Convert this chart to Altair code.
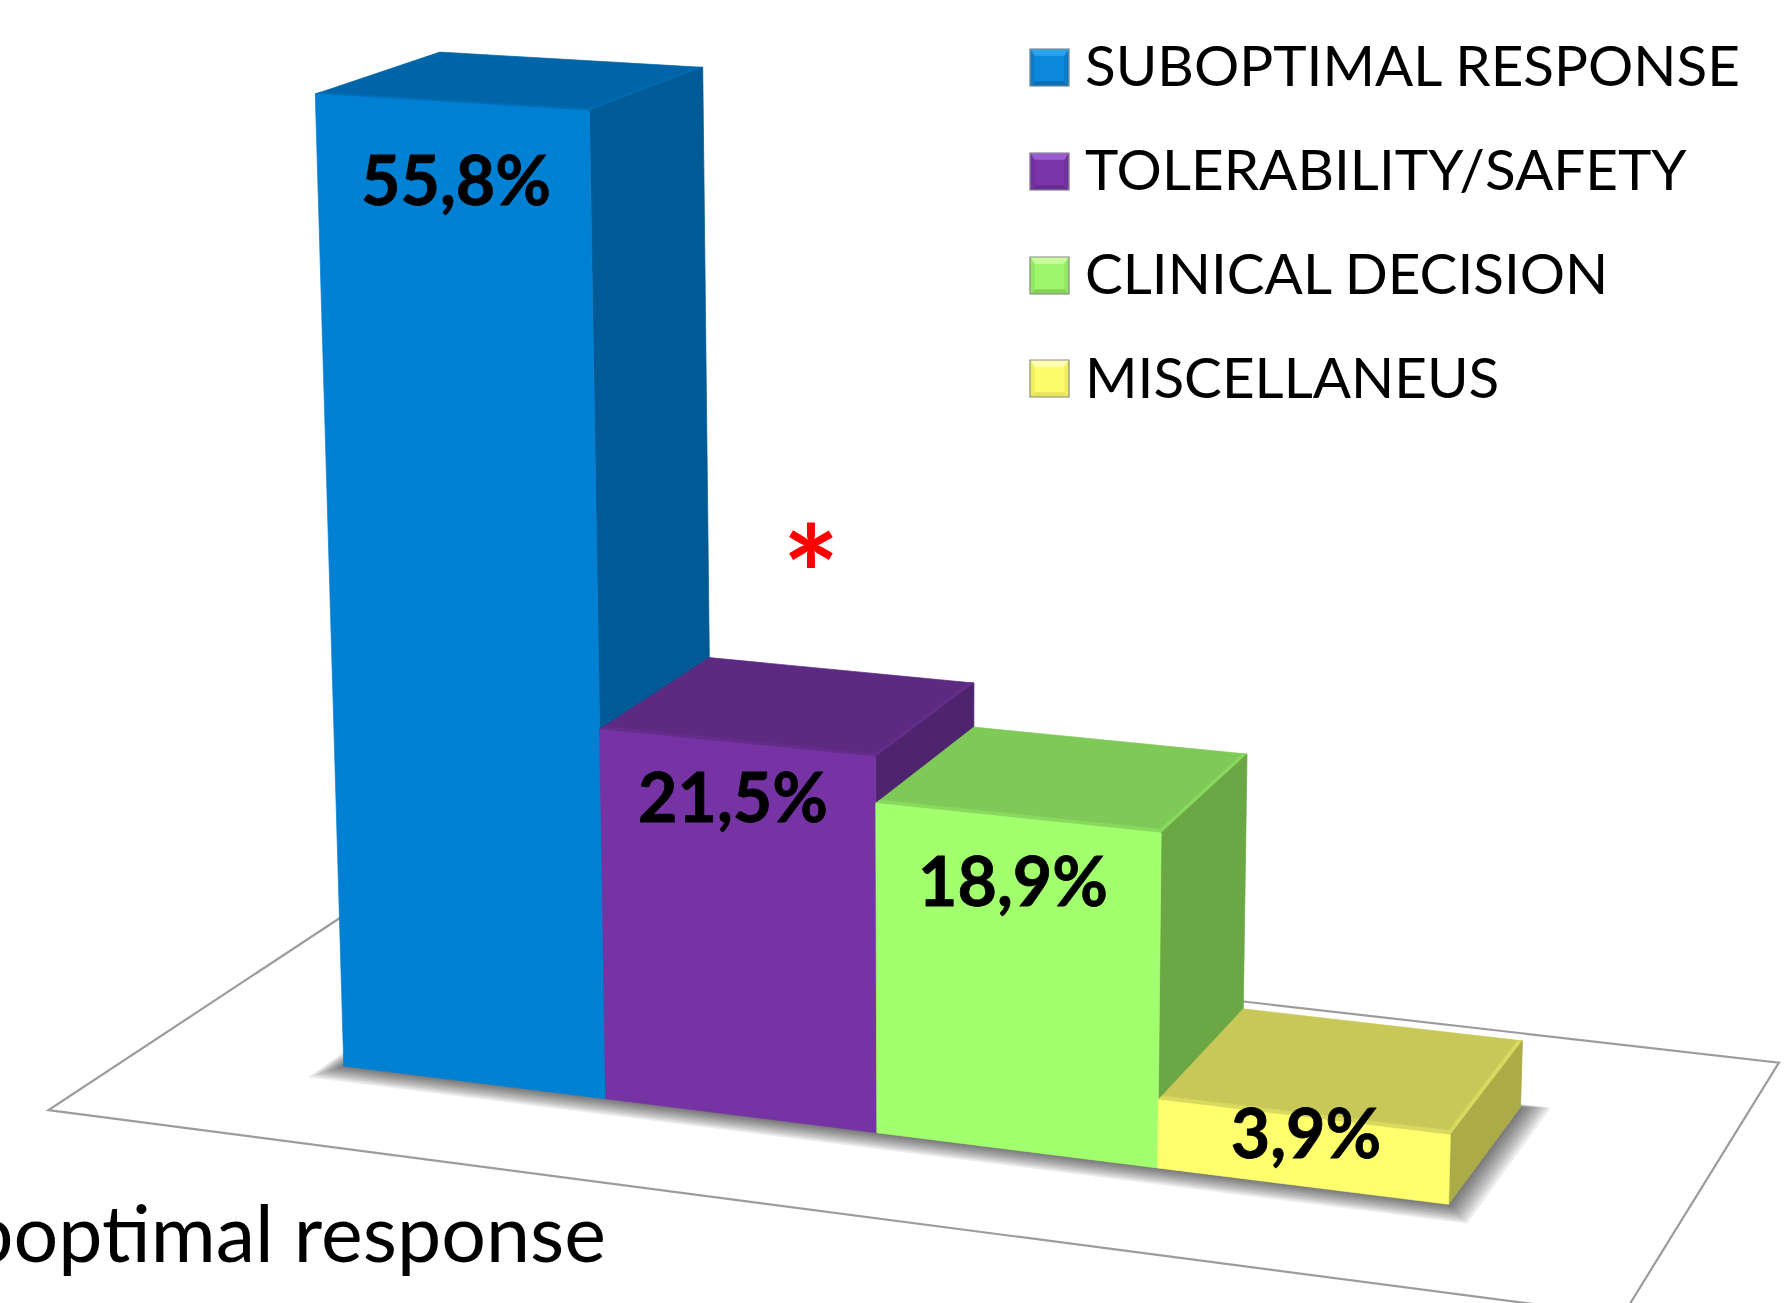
import altair as alt
import numpy as np

W, H = 1791, 1303

# chart values
categories = ["SUBOPTIMAL RESPONSE", "TOLERABILITY/SAFETY", "CLINICAL DECISION", "MISCELLANEUS"]
values = [55.8, 21.5, 18.9, 3.9]
caption = "Suboptimal response"
marker = "*"

# face colours per bar
front_colors = ["#0080d3", "#7533a4", "#a2ff6e", "#ffff6e"]
top_colors = ["#0065a8", "#5c2a80", "#7fc958", "#c8c858"]
side_colors = ["#005a95", "#4f246f", "#6ba845", "#abab47"]
bevel_colors = ["#006db5", "#642d8b", "#8ad95f", "#d9d95f"]

# legend swatch shading: top, middle, sides, bottom
swatch_top = ["#29a3ee", "#9a5cd0", "#c9ff9d", "#ffffb0"]
swatch_mid = ["#0b88dc", "#7836aa", "#9ef86c", "#fdfd69"]
swatch_side = ["#0a7cca", "#7030a0", "#92e863", "#f0f05e"]
swatch_bottom = ["#0871ba", "#682c95", "#85d356", "#e6e65a"]

# camera calibration: (slot position, depth, height) -> picture position
calib = [
    (0, 0, 55.8, 316, 94), (1, 0, 55.8, 590, 111), (0, 1, 55.8, 440, 51), (1, 1, 55.8, 702, 67),
    (0, 0, 0, 344, 1066), (1, 0, 0, 604, 1098), (2, 0, 0, 876, 1132), (3, 0, 0, 1158, 1168), (4, 0, 0, 1450, 1205),
    (1, 0, 21.5, 601, 729), (2, 0, 21.5, 874, 757), (1, 1, 21.5, 710, 658), (2, 1, 21.5, 972, 684),
    (2, 0, 18.9, 876, 803), (3, 0, 18.9, 1160, 833), (2, 1, 18.9, 976, 728), (3, 1, 18.9, 1245, 755),
    (3, 0, 3.9, 1159, 1101), (4, 0, 3.9, 1450, 1135), (3, 1, 3.9, 1244, 1012), (4, 1, 3.9, 1522, 1043),
    (4, 1, 0, 1522, 1100),
]
A, b = [], []
for X, D, Z, u, v in calib:
    A.append([X, D, Z, 1, 0, 0, 0, 0, -u * X, -u * D, -u * Z]); b.append(u)
    A.append([0, 0, 0, 0, X, D, Z, 1, -v * X, -v * D, -v * Z]); b.append(v)
p = np.linalg.lstsq(np.array(A, float), np.array(b, float), rcond=None)[0]
P = np.append(p, 1.0).reshape(3, 4)


def project(X, D, Z):
    q = P @ np.array([X, D, Z, 1.0])
    return [float(q[0] / q[2]), float(q[1] / q[2])]


def polygon(ring, fill):
    ring = list(ring) + [ring[0]]
    return {"type": "Feature", "geometry": {"type": "Polygon", "coordinates": [ring]}, "properties": {"fill": fill}}


def face(corners, fill):
    return polygon([project(*c) for c in corners], fill)


def ground_rect(x0, x1, d0, d1, fill):
    return face([(x0, d0, 0), (x1, d0, 0), (x1, d1, 0), (x0, d1, 0)], fill)


# faces of each bar, back to front, with a lighter rim along the visible top edges
features = []
for i, v in enumerate(values):
    l, r = i, i + 1
    rim_d, rim_x = 0.04, 0.016
    features.append(face([(l, 1, v), (r, 1, v), (r, 0, v), (l, 0, v)], top_colors[i]))
    features.append(face([(r - rim_x, rim_d, v), (r, rim_d, v), (r, 1, v), (r - rim_x, 1, v)], bevel_colors[i]))
    features.append(face([(l, 0, v), (r, 0, v), (r, rim_d, v), (l, rim_d, v)], bevel_colors[i]))
    features.append(face([(r, 0, v), (r, 1, v), (r, 1, 0), (r, 0, 0)], side_colors[i]))
    features.append(face([(l, 0, v), (r, 0, v), (r, 0, 0), (l, 0, 0)], front_colors[i]))

# floor under the bars
floor_outline = [ground_rect(-0.755, 4.75, -0.76, 1.765, "#9c9c9c")]

# soft cast shadow: nested ground rectangles that darken toward the bars
shadow_steps = 9
shadows = [
    ground_rect(-0.065 * t / shadow_steps, 4 + 0.10 * t / shadow_steps, -0.15 * t / shadow_steps, 1 + 0.03 * t / shadow_steps, "#000000")
    for t in range(shadow_steps, 0, -1)
]

# legend swatches
swatch_x, swatch_w, swatch_h = 1030, 39, 37
swatch_rows = [49, 153, 257, 360]
swatches = []
borders = []
for i, y in enumerate(swatch_rows):
    x0, x1, y1 = swatch_x, swatch_x + swatch_w, y + swatch_h
    ix0, ix1, iy0, iy1 = x0 + 5, x1 - 5, y + 7, y1 - 5
    swatches.append(polygon([[x0, y], [x1, y], [ix1, iy0], [ix0, iy0]], swatch_top[i]))
    swatches.append(polygon([[x0, y], [ix0, iy0], [ix0, iy1], [x0, y1]], swatch_side[i]))
    swatches.append(polygon([[x1, y], [ix1, iy0], [ix1, iy1], [x1, y1]], swatch_side[i]))
    swatches.append(polygon([[x0, y1], [ix0, iy1], [ix1, iy1], [x1, y1]], swatch_bottom[i]))
    swatches.append(polygon([[ix0, iy0], [ix1, iy0], [ix1, iy1], [ix0, iy1]], swatch_mid[i]))
    borders.append(polygon([[x0, y], [x1, y], [x1, y1], [x0, y1]], "none"))

# text placement
value_labels = [f"{v:.1f}".replace(".", ",") + "%" for v in values]
value_x = [456, 733, 1013, 1306]
value_y = [205, 822, 906, 1158]
legend_text_x = 1085
legend_text_y = [86, 190, 294, 398]

FONT = "Lato"


def geo_layer(items, **mark):
    return alt.Chart(alt.Data(values=items)).mark_geoshape(**mark)


floor = geo_layer(floor_outline, fill="white", stroke="#9c9c9c", strokeWidth=2.2)
shadow = geo_layer(shadows, fill="#000000", fillOpacity=0.075, strokeWidth=0)
bars = geo_layer(features, strokeWidth=0.7).encode(
    fill=alt.Fill("properties.fill:N", scale=None), stroke=alt.Stroke("properties.fill:N", scale=None)
)
swatch_faces = geo_layer(swatches, strokeWidth=0.4).encode(
    fill=alt.Fill("properties.fill:N", scale=None), stroke=alt.Stroke("properties.fill:N", scale=None)
)
swatch_border = geo_layer(borders, fill="transparent", stroke="#8c8c8c", strokeWidth=1.2)


def text_layer(texts, xs, ys, **mark):
    rows = [{"t": t, "lon": x, "lat": y} for t, x, y in zip(texts, xs, ys)]
    return (
        alt.Chart(alt.Data(values=rows))
        .mark_text(font=FONT, baseline="alphabetic", color="black", **mark)
        .encode(longitude="lon:Q", latitude="lat:Q", text="t:N")
    )


value_text = text_layer(
    value_labels, value_x, value_y, align="center", fontSize=68, fontWeight="bold", stroke="black", strokeWidth=0.8
)
legend_text = text_layer(categories, [legend_text_x] * 4, legend_text_y, align="left", fontSize=56.6)
caption_text = text_layer([caption], [606], [1262], align="right", fontSize=79)
star = (
    alt.Chart(alt.Data(values=[{"t": marker, "lon": 811, "lat": 624}]))
    .mark_text(font=FONT, baseline="alphabetic", align="center", fontSize=135, fontWeight="bold", color="#ff0000")
    .encode(longitude="lon:Q", latitude="lat:Q", text="t:N")
)

chart = (
    alt.layer(floor, shadow, bars, swatch_faces, swatch_border, value_text, legend_text, caption_text, star)
    .project(type="identity", scale=1, translate=[0, 0])
    .properties(width=W, height=H, padding=0, autosize=alt.AutoSizeParams(type="none"), background="white")
    .configure_view(stroke=None)
)
chart.save("out.html", embed_options={"renderer": "svg", "actions": False})
